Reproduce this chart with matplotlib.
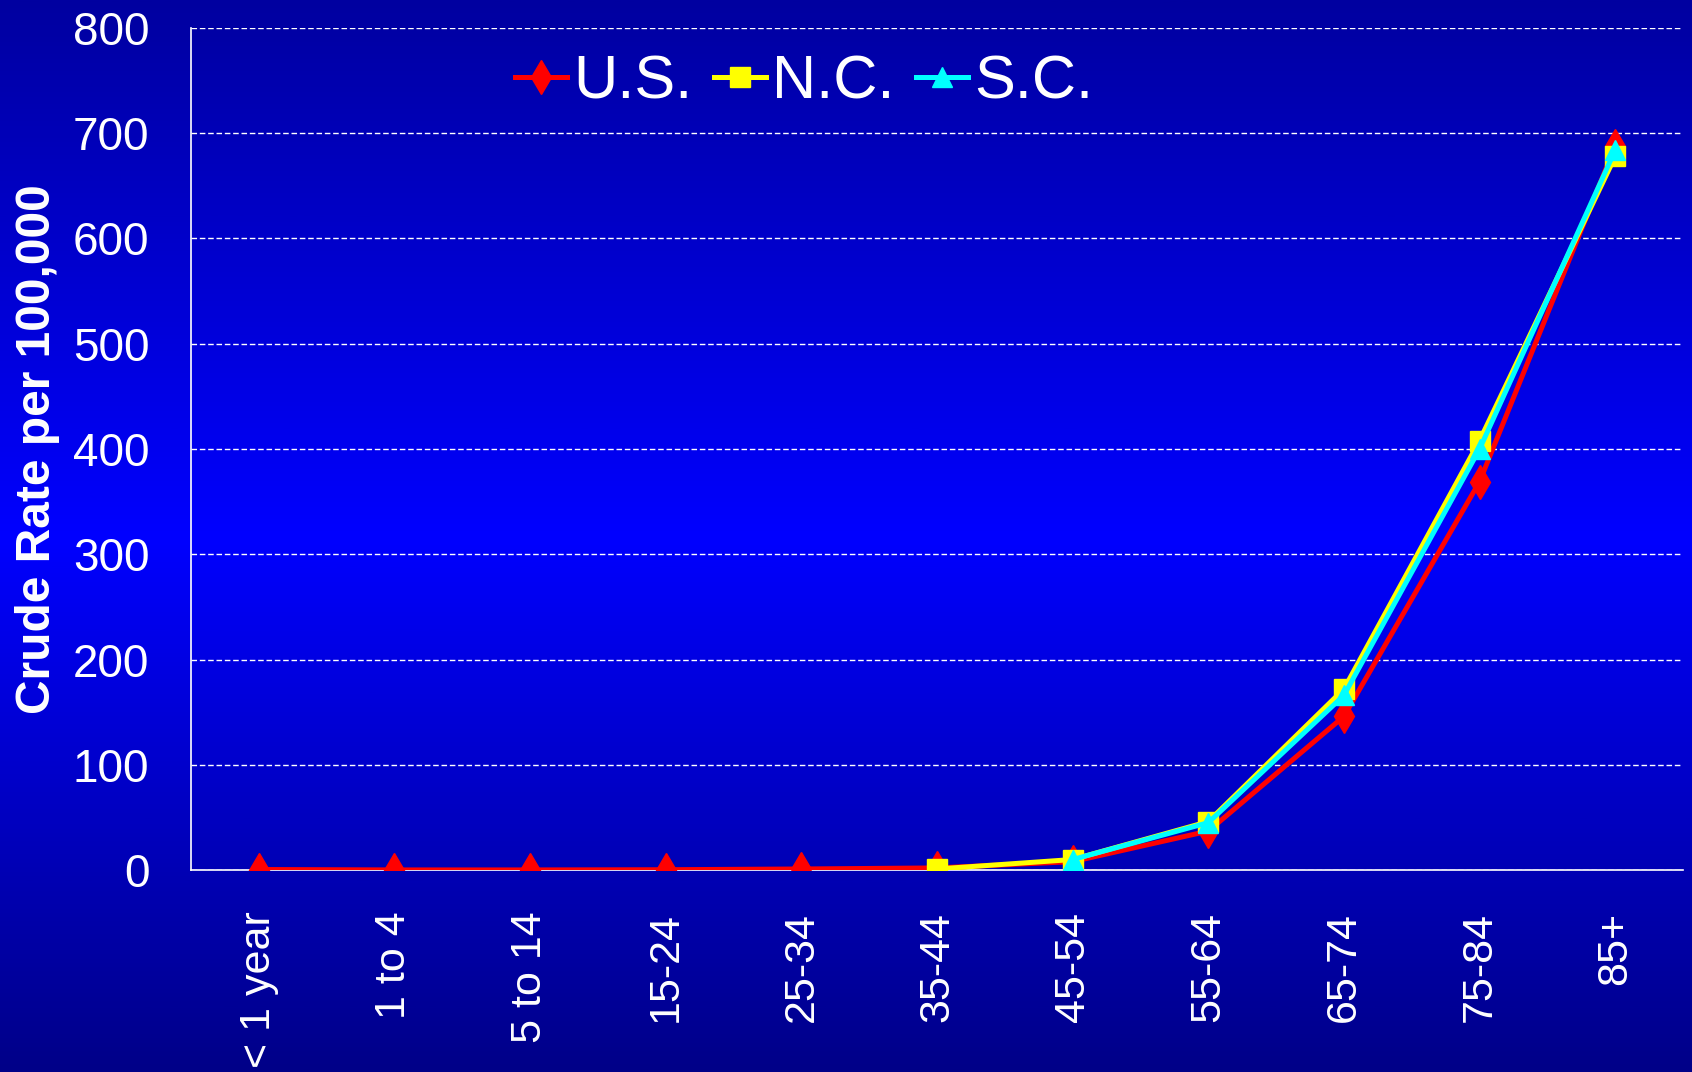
import numpy as np
import matplotlib
matplotlib.use("Agg")
import matplotlib.pyplot as plt
from matplotlib.colors import LinearSegmentedColormap

plt.rcParams['font.family'] = ['Liberation Sans', 'DejaVu Sans']

age_groups = ['< 1 year', '1 to 4', '5 to 14', '15-24', '25-34', '35-44',
              '45-54', '55-64', '65-74', '75-84', '85+']
us = [0.5, 0.1, 0.1, 0.3, 1.0, 2.0, 8, 37, 146, 369, 688]
nc = [np.nan, np.nan, np.nan, np.nan, np.nan, 1.0, 10, 46, 172, 408, 678]
sc = [np.nan, np.nan, np.nan, np.nan, np.nan, np.nan, 10, 45, 166, 400, 684]
y_ticks = [0, 100, 200, 300, 400, 500, 600, 700, 800]


def main():
    fig = plt.figure(figsize=(16.92, 10.72), dpi=100)

    # background gradient: dark navy top, bright blue middle, navy bottom
    bg = fig.add_axes([0, 0, 1, 1], zorder=-10)
    cmap = LinearSegmentedColormap.from_list(
        'bg', [(0.0, '#0000A0'), (0.5, '#0000FF'), (1.0, '#000088')])
    grad = np.linspace(0, 1, 512).reshape(-1, 1)
    bg.imshow(grad, aspect='auto', cmap=cmap, extent=[0, 1, 0, 1])
    bg.axis('off')

    ax = fig.add_axes([0.1129, 0.1884, 0.8818, 0.7855])
    ax.set_facecolor('none')
    x = np.arange(len(age_groups))

    ax.plot(x, us, color='#FF0000', lw=3.6, marker='d', ms=17,
            label='U.S.', zorder=3)
    ax.plot(x, nc, color='#FFFF00', lw=3.6, marker='s', ms=14,
            label='N.C.', zorder=4)
    ax.plot(x, sc, color='#00FFFF', lw=3.6, marker='^', ms=14,
            label='S.C.', zorder=5)

    ax.set_xlim(-0.5, len(age_groups) - 0.5)
    ax.set_ylim(0, 800)
    ax.set_yticks(y_ticks)
    ax.set_xticks(x)
    ax.set_xticklabels(age_groups, rotation=90, fontsize=31, color='white')
    ax.tick_params(axis='y', labelsize=33, labelcolor='white', length=0,
                   pad=30)
    ax.tick_params(axis='x', length=0, pad=30)

    for lab in ax.get_xticklabels():
        lab.set_verticalalignment('top')

    ax.yaxis.grid(True, color='white', linestyle=(0, (4, 2)), lw=1)
    ax.set_axisbelow(True)
    for side in ['top', 'right']:
        ax.spines[side].set_visible(False)
    for side in ['left', 'bottom']:
        ax.spines[side].set_color('white')
        ax.spines[side].set_linewidth(1.2)
        ax.spines[side].set_zorder(2)

    fig.text(0.022, 0.581, 'Crude Rate per 100,000', rotation=90,
             fontsize=34.5, fontweight='bold', color='white',
             ha='center', va='center')

    leg = ax.legend(loc='center', bbox_to_anchor=(0.411, 0.9345), ncol=3,
                    frameon=False, fontsize=44, handlelength=0.85,
                    handletextpad=0.1, columnspacing=0.35, borderpad=0)
    for t in leg.get_texts():
        t.set_color('white')

    fig.savefig('out.png', dpi=100)


if __name__ == "__main__":
    main()
